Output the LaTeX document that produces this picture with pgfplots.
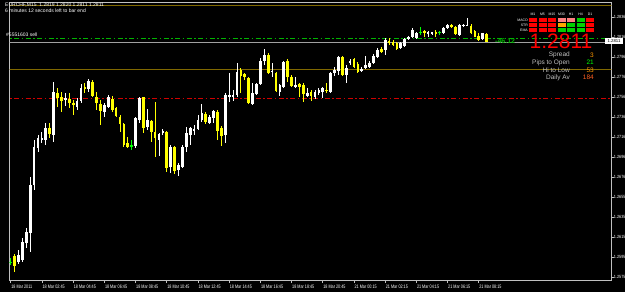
\documentclass[border=0pt]{standalone}
\usepackage{fontspec}
\setmainfont{Liberation Sans}
\usepackage{pgfplots}
\usepackage{pgfplotstable}
\pgfplotsset{compat=1.18}
\definecolor{mtgrey}{HTML}{C0C0C0}
\definecolor{mtyellow}{HTML}{FFFF00}
\definecolor{mtgreen}{HTML}{00FF00}
\definecolor{mtolive}{HTML}{806800}
\definecolor{mtred}{HTML}{D00000}
\definecolor{ordergreen}{HTML}{00B400}
\definecolor{bidgrey}{HTML}{A0A0A0}
\definecolor{cellred}{HTML}{FF0000}
\definecolor{cellsalmon}{HTML}{FF8080}
\definecolor{cellgreen}{HTML}{00D000}
\definecolor{cellorange}{HTML}{FFA500}
\definecolor{valorange}{HTML}{FF9900}
\definecolor{valred}{HTML}{FF6020}

% bullish (white) candles
\pgfplotstableread{
i O H L C
2 1.2590 1.2602 1.2588 1.2597
3 1.2592 1.2614 1.2590 1.2610
4 1.2609 1.2624 1.2604 1.2620
5 1.2619 1.2675 1.2600 1.2667
6 1.2667 1.2713 1.2662 1.2706
7 1.2705 1.2718 1.2701 1.2715
8 1.2713 1.2721 1.2710 1.2715
9 1.2713 1.2730 1.2708 1.2725
11 1.2718 1.2771 1.2711 1.2761
14 1.2753 1.2760 1.2747 1.2755
17 1.2746 1.2755 1.2743 1.2752
18 1.2752 1.2769 1.2750 1.2765
20 1.2764 1.2774 1.2761 1.2772
24 1.2741 1.2750 1.2736 1.2748
25 1.2746 1.2758 1.2745 1.2756
32 1.2707 1.2736 1.2705 1.2735
33 1.2733 1.2756 1.2730 1.2755
35 1.2726 1.2744 1.2723 1.2733
38 1.2713 1.2720 1.2697 1.2719
39 1.2720 1.2724 1.2718 1.2722
41 1.2686 1.2708 1.2679 1.2706
43 1.2683 1.2689 1.2676 1.2688
44 1.2686 1.2708 1.2685 1.2706
45 1.2706 1.2726 1.2701 1.2720
46 1.2718 1.2726 1.2708 1.2725
47 1.2722 1.2728 1.2718 1.2724
48 1.2724 1.2738 1.2723 1.2733
49 1.2733 1.2749 1.2731 1.2740
51 1.2730 1.2738 1.2729 1.2736
52 1.2735 1.2743 1.2730 1.2742
55 1.2718 1.2760 1.2710 1.2758
56 1.2756 1.2780 1.2751 1.2758
57 1.2756 1.2763 1.2752 1.2758
58 1.2758 1.2790 1.2756 1.2781
62 1.2749 1.2770 1.2748 1.2760
63 1.2759 1.2770 1.2758 1.2769
64 1.2769 1.2795 1.2768 1.2792
65 1.2792 1.2804 1.2788 1.2798
67 1.2781 1.2790 1.2776 1.2782
69 1.2761 1.2769 1.2757 1.2768
70 1.2766 1.2792 1.2765 1.2791
73 1.2766 1.2776 1.2765 1.2768
76 1.2757 1.2765 1.2756 1.2760
78 1.2756 1.2763 1.2754 1.2761
79 1.2760 1.2765 1.2758 1.2763
80 1.2761 1.2766 1.2755 1.2765
82 1.2761 1.2781 1.2760 1.2780
83 1.2780 1.2786 1.2777 1.2783
84 1.2782 1.2797 1.2778 1.2796
86 1.2778 1.2788 1.2770 1.2785
87 1.2790 1.2794 1.2788 1.2792
90 1.2782 1.2786 1.2781 1.2784
91 1.2785 1.2797 1.2784 1.2788
92 1.2786 1.2792 1.2785 1.2790
93 1.2790 1.2799 1.2789 1.2797
94 1.2796 1.2805 1.2795 1.2803
96 1.2803 1.2815 1.2798 1.2813
100 1.2805 1.2811 1.2804 1.2810
101 1.2807 1.2815 1.2806 1.2814
102 1.2815 1.2817 1.2813 1.2816
103 1.2816 1.2825 1.2815 1.2823
104 1.2815 1.2821 1.2814 1.2820
107 1.2819 1.2822 1.2816 1.2821
108 1.2819 1.2821 1.2818 1.2821
111 1.2820 1.2826 1.2819 1.2825
112 1.2825 1.2829 1.2824 1.2828
115 1.2818 1.2829 1.2817 1.2828
116 1.2827 1.2829 1.2826 1.2828
117 1.2827 1.2835 1.2827 1.2828
121 1.2814 1.2820 1.2813 1.2820
}\bull

% bearish (yellow) candles
\pgfplotstableread{
i O H L C
1 1.2596 1.2598 1.2580 1.2586
10 1.2725 1.2730 1.2715 1.2719
12 1.2760 1.2765 1.2746 1.2755
13 1.2756 1.2761 1.2741 1.2752
15 1.2754 1.2760 1.2745 1.2750
16 1.2750 1.2753 1.2738 1.2748
19 1.2766 1.2770 1.2760 1.2764
21 1.2771 1.2773 1.2756 1.2757
22 1.2756 1.2761 1.2743 1.2750
23 1.2749 1.2753 1.2728 1.2742
26 1.2754 1.2757 1.2741 1.2743
27 1.2745 1.2746 1.2736 1.2737
28 1.2736 1.2738 1.2721 1.2729
29 1.2729 1.2730 1.2706 1.2708
30 1.2710 1.2716 1.2705 1.2706
34 1.2756 1.2756 1.2720 1.2725
36 1.2732 1.2733 1.2711 1.2721
37 1.2721 1.2751 1.2695 1.2715
40 1.2721 1.2722 1.2680 1.2684
42 1.2706 1.2707 1.2679 1.2681
50 1.2739 1.2741 1.2729 1.2731
53 1.2741 1.2743 1.2713 1.2722
54 1.2725 1.2727 1.2707 1.2717
59 1.2783 1.2785 1.2760 1.2777
60 1.2779 1.2780 1.2773 1.2776
61 1.2775 1.2776 1.2749 1.2750
66 1.2798 1.2800 1.2779 1.2780
68 1.2780 1.2781 1.2761 1.2762
71 1.2792 1.2794 1.2771 1.2776
72 1.2776 1.2778 1.2766 1.2767
74 1.2769 1.2770 1.2756 1.2766
75 1.2768 1.2770 1.2751 1.2759
77 1.2761 1.2763 1.2752 1.2757
81 1.2763 1.2770 1.2760 1.2762
85 1.2796 1.2797 1.2777 1.2778
88 1.2794 1.2795 1.2785 1.2786
89 1.2789 1.2791 1.2780 1.2781
95 1.2804 1.2806 1.2800 1.2801
97 1.2812 1.2815 1.2808 1.2810
98 1.2811 1.2813 1.2807 1.2808
99 1.2810 1.2811 1.2803 1.2804
106 1.2822 1.2823 1.2816 1.2820
109 1.2821 1.2823 1.2816 1.2819
113 1.2828 1.2829 1.2825 1.2826
114 1.2826 1.2827 1.2818 1.2819
118 1.2827 1.2829 1.2819 1.2820
119 1.2822 1.2823 1.2816 1.2816
120 1.2817 1.2820 1.2812 1.2813
122 1.2819 1.2820 1.2811 1.2811
}\bear

% doji (green) candles
\pgfplotstableread{
i O H L C
0 1.2590 1.2594 1.2587 1.2590
31 1.2707 1.2713 1.2703 1.2707
105 1.2821 1.2826 1.2818 1.2821
110 1.2821 1.2822 1.2818 1.2821
}\doji

\pgfplotsset{
  wick/.style={draw=none, forget plot, error bars/.cd, y dir=both, y explicit,
    error mark=none, error bar style={draw=#1, line width=0.9pt}},
  body/.style={draw=none, forget plot, error bars/.cd, y dir=both, y explicit,
    error mark=none, error bar style={draw=#1, line width=2.7pt}},
}

\newcommand{\tinyf}{\fontsize{5}{5}\selectfont}

\begin{document}
\begin{tikzpicture}[x=1pt,y=1pt]
\useasboundingbox (0,0) rectangle (625,292);
\fill[black] (0,0) rectangle (625,292);
\begin{axis}[
  at={(2.5,11.5)}, anchor=south west,
  scale only axis, width=601.5pt, height=278pt,
  xmin=-0.256, xmax=153.97, ymin=1.25715, ymax=1.28505,
  axis line style={mtgrey, line width=0.8pt},
  xtick pos=left, ytick pos=right, tick align=outside,
  major tick length=2.5pt,
  tick style={mtgrey, line width=0.6pt},
  xtick={0,8,...,120},
  xticklabels={18 Mar 2011, 18 Mar 02:45, 18 Mar 04:45, 18 Mar 06:45, 18 Mar 08:45, 18 Mar 10:45, 18 Mar 12:45, 18 Mar 14:45, 18 Mar 16:45, 18 Mar 18:45, 18 Mar 20:45, 21 Mar 00:15, 21 Mar 02:15, 21 Mar 04:15, 21 Mar 06:15, 21 Mar 08:15},
  xticklabel style={anchor=north west, inner sep=0pt, yshift=-1.5pt, xshift=0.5pt, font=\tinyf, text=white, xscale=0.75},
  ytick={1.25750,1.25951,1.26152,1.26352,1.26553,1.26754,1.26955,1.27155,1.27356,1.27557,1.27758,1.27958,1.28159,1.28360},
  yticklabels={1.2575,1.2595,1.2615,1.2635,1.2655,1.2676,1.2696,1.2716,1.2736,1.2756,1.2776,1.2796,1.2816,1.2836},
  yticklabel style={anchor=west, inner sep=0pt, xshift=0pt, font=\fontsize{4.5}{4.5}\selectfont, text=white, xscale=0.85},
]
% horizontal levels
\addplot[mtolive, line width=1pt, forget plot] coordinates {(-5,1.28475) (160,1.28475)};
\addplot[mtolive, line width=1pt, forget plot] coordinates {(-5,1.27833) (160,1.27833)};
\addplot[mtred, line width=0.8pt, dash pattern=on 5pt off 2.5pt on 1.5pt off 2.5pt, forget plot] coordinates {(-5,1.27544) (160,1.27544)};
\addplot[bidgrey, line width=0.6pt, forget plot] coordinates {(-5,1.2811) (160,1.2811)};
\addplot[ordergreen, line width=0.8pt, dash pattern=on 5pt off 2.5pt on 1.5pt off 2.5pt, forget plot] coordinates {(-5,1.28144) (160,1.28144)};
% wicks
\addplot[wick=white] table[x=i, y expr={(\thisrow{H}+\thisrow{L})/2}, y error expr={(\thisrow{H}-\thisrow{L})/2}] {\bull};
\addplot[wick=mtyellow] table[x=i, y expr={(\thisrow{H}+\thisrow{L})/2}, y error expr={(\thisrow{H}-\thisrow{L})/2}] {\bear};
\addplot[wick=mtgreen] table[x=i, y expr={(\thisrow{H}+\thisrow{L})/2}, y error expr={(\thisrow{H}-\thisrow{L})/2}] {\doji};
% bodies
\addplot[body=white] table[x=i, y expr={(\thisrow{O}+\thisrow{C})/2}, y error expr={max(abs(\thisrow{O}-\thisrow{C})/2,0.00005)}] {\bull};
\addplot[body=mtyellow] table[x=i, y expr={(\thisrow{O}+\thisrow{C})/2}, y error expr={max(abs(\thisrow{O}-\thisrow{C})/2,0.00005)}] {\bear};
\addplot[body=mtgreen] table[x=i, y expr={(\thisrow{O}+\thisrow{C})/2}, y error expr={max(abs(\thisrow{O}-\thisrow{C})/2,0.00005)}] {\doji};
\end{axis}

% texts in the chart window
\node[anchor=west, inner sep=0pt, font=\tinyf, text=white] at (5,287) {EURCHF,M15\ \ 1.2819 1.2820 1.2811 1.2811};
\node[anchor=west, inner sep=0pt, font=\tinyf, text=white] at (5,281) {6 minutes 12 seconds left to bar end};
\node[anchor=west, inner sep=0pt, font=\tinyf, text=white] at (6,257) {\#5551603 sell};
\node[anchor=west, inner sep=0pt, font=\fontsize{7}{7}\selectfont\bfseries, text=ordergreen] at (495,251) {-46.12};

% current price box on the price scale
\fill[white] (605,247.5) rectangle (623,253.5);
\node[inner sep=0pt, font=\fontsize{4.3}{4.3}\selectfont, text=black] at (614,250.5) {1.2811};

% signal panel
\foreach \lab [count=\k from 0] in {M1,M5,M15,M30,H1,H4,D1}
  \node[inner sep=0pt, font=\fontsize{3.5}{3.5}\selectfont, text=white] at (533+9.5*\k,278) {\lab};
\node[anchor=east, inner sep=0pt, font=\fontsize{3.5}{3.5}\selectfont, text=white] at (528,272) {MACD};
\node[anchor=east, inner sep=0pt, font=\fontsize{3.5}{3.5}\selectfont, text=white] at (528,267) {STR};
\node[anchor=east, inner sep=0pt, font=\fontsize{3.5}{3.5}\selectfont, text=white] at (528,262) {EMA};
\foreach \c [count=\k from 0] in {cellred,cellred,cellred,cellsalmon,cellsalmon,cellgreen,cellred}
  \fill[\c] (529+9.5*\k,270) rectangle (537+9.5*\k,274);
\foreach \c [count=\k from 0] in {cellred,cellred,cellred,cellorange,cellgreen,cellgreen,cellred}
  \fill[\c] (529+9.5*\k,265) rectangle (537+9.5*\k,269);
\foreach \c [count=\k from 0] in {cellred,cellred,cellred,cellgreen,cellgreen,cellgreen,cellred}
  \fill[\c] (529+9.5*\k,260) rectangle (537+9.5*\k,264);

\node[inner sep=0pt, font=\fontsize{21}{21}\selectfont, text=cellred] at (561,251) {1.2811};

\node[anchor=east, inner sep=0pt, font=\fontsize{6.5}{6.5}\selectfont, text=mtgrey] at (570,237) {Spread};
\node[anchor=east, inner sep=0pt, font=\fontsize{6.5}{6.5}\selectfont, text=mtgrey] at (570,229.5) {Pips to Open};
\node[anchor=east, inner sep=0pt, font=\fontsize{6.5}{6.5}\selectfont, text=mtgrey] at (570,222) {Hi to Low};
\node[anchor=east, inner sep=0pt, font=\fontsize{6.5}{6.5}\selectfont, text=mtgrey] at (570,214.5) {Daily Av};
\node[anchor=east, inner sep=0pt, font=\fontsize{6.5}{6.5}\selectfont, text=valorange] at (594,237) {3};
\node[anchor=east, inner sep=0pt, font=\fontsize{6.5}{6.5}\selectfont, text=mtgreen] at (594,229.5) {21};
\node[anchor=east, inner sep=0pt, font=\fontsize{6.5}{6.5}\selectfont, text=valorange] at (594,222) {53};
\node[anchor=east, inner sep=0pt, font=\fontsize{6.5}{6.5}\selectfont, text=valred] at (594,214.5) {184};
\end{tikzpicture}
\end{document}
